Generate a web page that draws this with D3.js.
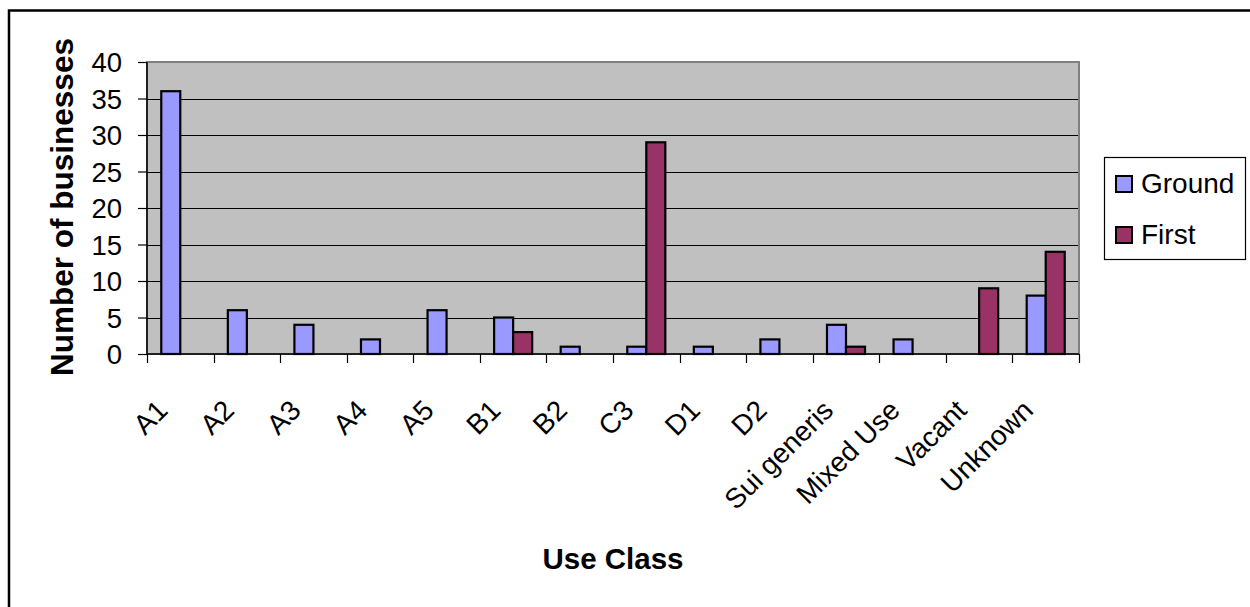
<!DOCTYPE html>
<html>
<head>
<meta charset="utf-8">
<script src="https://cdnjs.cloudflare.com/ajax/libs/d3/7.8.5/d3.min.js"></script>
<style>
  body { margin: 0; background: #fff; }
  svg { display: block; font-family: "Liberation Sans", Arial, sans-serif; }
</style>
</head>
<body>
<svg id="chart" width="1250" height="607"></svg>
<script>
// data
var categories = ["A1", "A2", "A3", "A4", "A5", "B1", "B2", "C3", "D1", "D2", "Sui generis", "Mixed Use", "Vacant", "Unknown"];
var groundValues = [36, 6, 4, 2, 6, 5, 1, 1, 1, 2, 4, 2, 0, 8];
var firstValues  = [0, 0, 0, 0, 0, 3, 0, 29, 0, 0, 1, 0, 9, 14];
var seriesNames = ["Ground", "First"];
var seriesColors = ["#9999FF", "#993366"];
var yTicks = [0, 5, 10, 15, 20, 25, 30, 35, 40];

var svg = d3.select("#chart");

// outer chart border (runs off the right and bottom edges)
svg.append("rect")
  .attr("x", 9).attr("y", 10.5)
  .attr("width", 1400).attr("height", 800)
  .attr("fill", "none")
  .attr("stroke", "#000")
  .attr("stroke-width", 2.5);

var plot = {left: 147, top: 62, right: 1079, bottom: 354};

var x = d3.scaleBand()
  .domain(categories)
  .range([plot.left, plot.right])
  .paddingInner(0)
  .paddingOuter(0);

var y = d3.scaleLinear()
  .domain([0, 40])
  .range([plot.bottom, plot.top]);

// bars: gap width 150% like Excel -> band = 2 bars + 1.5 bar
var barW = x.bandwidth() / 3.5;
var x1 = d3.scaleBand()
  .domain(seriesNames)
  .range([barW * 0.75, barW * 2.75]);

// plot background
svg.append("rect")
  .attr("x", plot.left).attr("y", plot.top)
  .attr("width", plot.right - plot.left)
  .attr("height", plot.bottom - plot.top)
  .attr("fill", "#C0C0C0")
  .attr("stroke", "#808080")
  .attr("stroke-width", 2);

// gridlines
svg.append("g")
  .selectAll("line")
  .data(yTicks.filter(function(d){ return d > 0 && d < 40; }))
  .enter()
  .append("line")
  .attr("x1", plot.left).attr("x2", plot.right - 1)
  .attr("y1", function(d){ return Math.round(y(d)) + 0.5; })
  .attr("y2", function(d){ return Math.round(y(d)) + 0.5; })
  .attr("stroke", "#000")
  .attr("stroke-width", 1.2);

// bars
var rows = categories.map(function(c, i){
  return {cat: c, values: [groundValues[i], firstValues[i]]};
});

var groups = svg.append("g")
  .selectAll("g")
  .data(rows)
  .enter()
  .append("g")
  .attr("transform", function(d){ return "translate(" + x(d.cat) + ",0)"; });

groups.selectAll("rect")
  .data(function(d){
    return d.values.map(function(v, k){ return {name: seriesNames[k], value: v, k: k}; })
      .filter(function(e){ return e.value > 0; });
  })
  .enter()
  .append("rect")
  .attr("x", function(d){ return x1(d.name); })
  .attr("width", x1.bandwidth())
  .attr("y", function(d){ return y(d.value); })
  .attr("height", function(d){ return y(0) - y(d.value); })
  .attr("fill", function(d){ return seriesColors[d.k]; })
  .attr("stroke", "#000")
  .attr("stroke-width", 2.2);

// y axis
var yAxis = svg.append("g")
  .attr("transform", "translate(" + plot.left + ",0)")
  .call(d3.axisLeft(y).tickValues(yTicks).tickSize(9).tickPadding(16));
yAxis.select(".domain").attr("stroke", "#000").attr("stroke-width", 1.5)
  .attr("d", "M0," + (plot.top) + "V" + plot.bottom);
yAxis.selectAll(".tick line").attr("stroke", "#000").attr("stroke-width", 1.2);
yAxis.selectAll(".tick text")
  .attr("font-size", "27.5px")
  .attr("fill", "#000")
  .attr("font-family", "Liberation Sans, Arial, sans-serif")
  .attr("dy", "0.36em");

// x axis
var xAxis = svg.append("g")
  .attr("transform", "translate(0," + plot.bottom + ")");
xAxis.append("line")
  .attr("x1", plot.left).attr("x2", plot.right)
  .attr("y1", 0).attr("y2", 0)
  .attr("stroke", "#000").attr("stroke-width", 1.5);
xAxis.selectAll(".xtick")
  .data(categories.concat(["end"]))
  .enter()
  .append("line")
  .attr("class", "xtick")
  .attr("x1", function(d, i){ return Math.round(plot.left + i * x.bandwidth()) + 0.5; })
  .attr("x2", function(d, i){ return Math.round(plot.left + i * x.bandwidth()) + 0.5; })
  .attr("y1", 0).attr("y2", 9)
  .attr("stroke", "#000").attr("stroke-width", 1.2);

svg.append("g")
  .selectAll("text")
  .data(categories)
  .enter()
  .append("text")
  .attr("transform", function(d){
    return "translate(" + (x(d) + x.bandwidth() / 2 - 11) + ",412) rotate(-45)";
  })
  .attr("text-anchor", "end")
  .attr("font-size", "28px")
  .attr("fill", "#000")
  .text(function(d){ return d; });

// axis titles
svg.append("text")
  .attr("transform", "translate(73,207) rotate(-90)")
  .attr("text-anchor", "middle")
  .attr("font-size", "31.5px")
  .attr("font-weight", "bold")
  .text("Number of businesses");

svg.append("text")
  .attr("x", 613).attr("y", 569)
  .attr("text-anchor", "middle")
  .attr("font-size", "29.5px")
  .attr("font-weight", "bold")
  .text("Use Class");

// legend
var legend = svg.append("g").attr("transform", "translate(1104,157)");
legend.append("rect")
  .attr("x", 0.5).attr("y", 0.5)
  .attr("width", 141).attr("height", 102)
  .attr("fill", "#fff")
  .attr("stroke", "#000")
  .attr("stroke-width", 1.2);

var items = legend.selectAll("g.item")
  .data(seriesNames)
  .enter()
  .append("g")
  .attr("class", "item")
  .attr("transform", function(d, i){ return "translate(0," + (27 + i * 51) + ")"; });

items.append("rect")
  .attr("x", 12).attr("y", -8)
  .attr("width", 16).attr("height", 16)
  .attr("fill", function(d, i){ return seriesColors[i]; })
  .attr("stroke", "#000")
  .attr("stroke-width", 2);

items.append("text")
  .attr("x", 37).attr("y", 9)
  .attr("font-size", "28px")
  .attr("fill", "#000")
  .text(function(d){ return d; });
</script>
</body>
</html>
